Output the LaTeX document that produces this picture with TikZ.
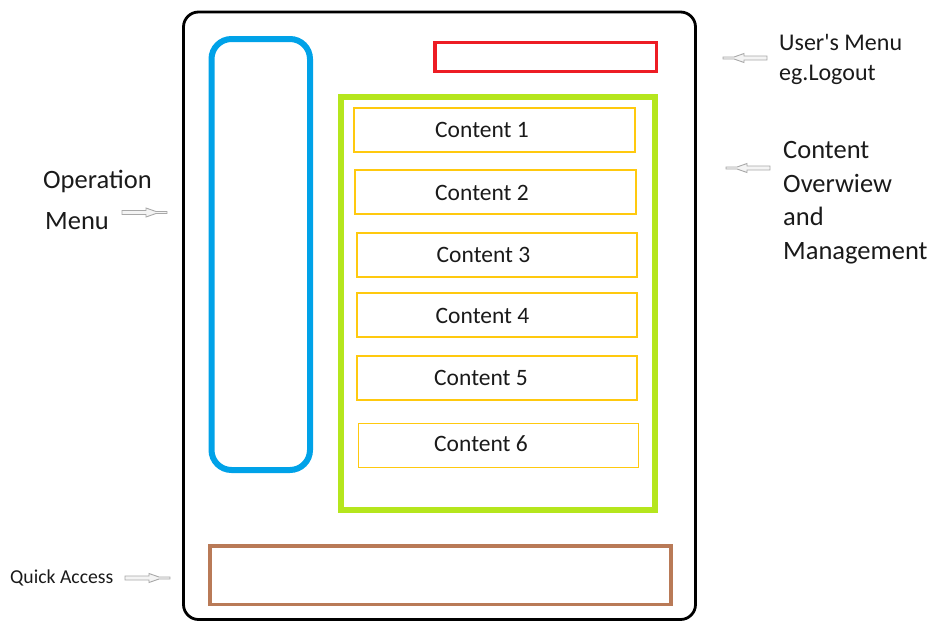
\documentclass[tikz,border=0pt]{standalone}
\usepackage{fontspec}
\setmainfont{Carlito}
\definecolor{pblue}{HTML}{00A2E8}
\definecolor{pgreen}{HTML}{B5E61D}
\definecolor{pred}{HTML}{ED1C24}
\definecolor{pyellow}{HTML}{FFC90E}
\definecolor{pbrown}{HTML}{B97A57}
\definecolor{arrgray}{HTML}{A8A8A8}
\definecolor{arrfill}{HTML}{F4F4F4}
\definecolor{txt}{HTML}{1A1A1A}
\begin{document}
\begin{tikzpicture}[x=1pt,y=-1pt,
  contentbox/.style={draw=pyellow,line width=1.5pt},
  ctext/.style={font=\fontsize{23.5}{26}\selectfont,text=txt,inner sep=0pt},
  lbl/.style={font=\fontsize{26.5}{30}\selectfont,text=txt,inner sep=0pt,anchor=base west},
  ulbl/.style={font=\fontsize{24}{28}\selectfont,text=txt,inner sep=0pt,anchor=base west},
  qlbl/.style={font=\fontsize{19.7}{22}\selectfont,text=txt,inner sep=0pt,anchor=base west},
  hollowarrow/.style={draw=arrgray,fill=arrfill,line width=0.9pt,line join=miter}]
\useasboundingbox (0,0) rectangle (933,621);
% outer frame
\draw[line width=2.8pt,rounded corners=15pt] (183.5,12) rectangle (695.5,619.5);
% operation menu
\draw[pblue,line width=6pt,rounded corners=20pt] (211.5,39) rectangle (310,470);
% user's menu
\draw[pred,line width=3.5pt] (435,42.5) rectangle (656.5,71.5);
% content area
\draw[pgreen,line width=6pt] (340.5,97) rectangle (654.5,510);
% content boxes
\node[contentbox,minimum width=281pt,minimum height=44pt,inner sep=0pt] (c1) at (494.5,130) {};
\node[contentbox,minimum width=281pt,minimum height=44pt,inner sep=0pt] (c2) at (495.5,192) {};
\node[contentbox,minimum width=280pt,minimum height=44pt,inner sep=0pt] (c3) at (497,255) {};
\node[contentbox,minimum width=280pt,minimum height=44pt,inner sep=0pt] (c4) at (497,315) {};
\node[contentbox,minimum width=280pt,minimum height=44pt,inner sep=0pt] (c5) at (497,378) {};
\node[contentbox,minimum width=280pt,minimum height=44pt,inner sep=0pt] (c6) at (498.5,445.5) {};
\node[ctext] (t1) at (482,130) {Content 1};
\node[ctext] (t2) at (482,193) {Content 2};
\node[ctext] (t3) at (483.5,255) {Content 3};
\node[ctext] (t4) at (482.5,316) {Content 4};
\node[ctext] (t5) at (481,378) {Content 5};
\node[ctext] (t6) at (481,444) {Content 6};
% quick access
\draw[pbrown,line width=3.2pt] (210,546) rectangle (671,604.5);
% labels
\node[ulbl] (u1) at (779,50) {User\textquotesingle s Menu};
\node[ulbl] (u2) at (779,80) {eg.Logout};
\node[lbl] (m1) at (783,158) {Content};
\node[lbl] (m2) at (783,192) {Overwiew};
\node[lbl] (m3) at (783,225.5) {and};
\node[lbl] (m4) at (783,259) {Management};
\node[lbl] (o1) at (43,188.5) {Operation};
\node[lbl] (o2) at (45,229) {Menu};
\node[qlbl] (q1) at (10,583) {Quick Access};
% hollow arrows (left pointing)
\foreach \xa/\ya in {723/58, 726/168}{
  \draw[hollowarrow] (\xa,\ya-1) -- (\xa+11,\ya-1) -- (\xa+21,\ya-4.5) -- (\xa+21,\ya-2)
    -- (\xa+44,\ya-2) -- (\xa+44,\ya+2) -- (\xa+21,\ya+2) -- (\xa+21,\ya+4.5)
    -- (\xa+11,\ya+1) -- (\xa,\ya+1) -- cycle;
}
% hollow arrows (right pointing)
\foreach \xb/\yb in {167/212.5, 170/578}{
  \draw[hollowarrow] (\xb,\yb-1) -- (\xb-11,\yb-1) -- (\xb-21,\yb-4.5) -- (\xb-21,\yb-2)
    -- (\xb-45,\yb-2) -- (\xb-45,\yb+2) -- (\xb-21,\yb+2) -- (\xb-21,\yb+4.5)
    -- (\xb-11,\yb+1) -- (\xb,\yb+1) -- cycle;
}
\end{tikzpicture}
\end{document}
